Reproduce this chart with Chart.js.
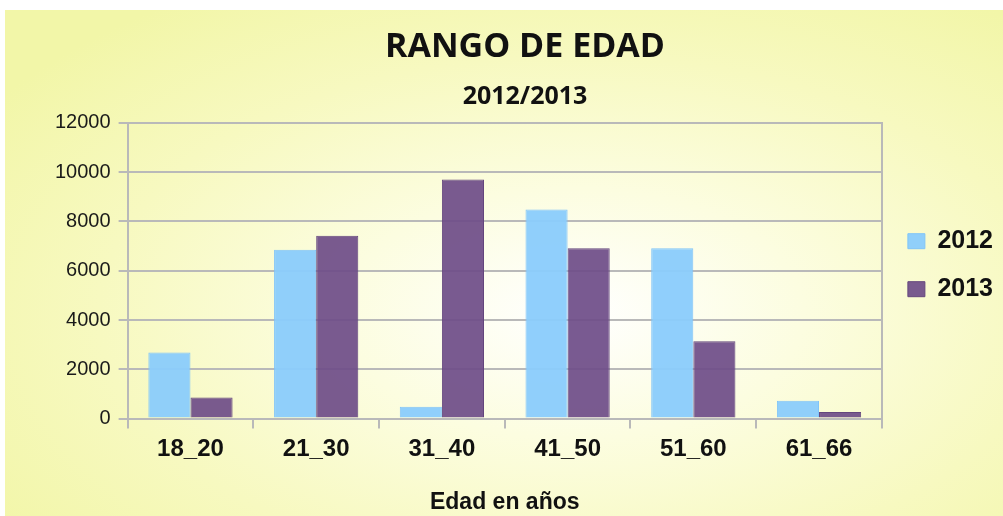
<!DOCTYPE html>
<html>
<head>
<meta charset="utf-8">
<script src="https://cdn.jsdelivr.net/npm/chart.js@4"></script>
<style>
    html, body { margin: 0; padding: 0; background: #ffffff; }
    #fondo {
        position: absolute; left: 5px; top: 10px; right: 0; bottom: 0;
        background: radial-gradient(ellipse 70% 75% at 57% 60%, #ffffff 0%, #fcfde0 33%, #f7f9c0 68%, #f2f6a8 100%);
    }
    #caja { position: absolute; left: 0; top: 0; width: 1003px; height: 516px; }
</style>
</head>
<body>
<div id="fondo"></div>
<div id="caja"><canvas id="rangoEdad" width="1003" height="516"></canvas></div>
<script>
// datos
const categorias = ["18_20", "21_30", "31_40", "41_50", "51_60", "61_66"];
const series = ["2012", "2013"];
const valores2012 = [2680, 6850, 480, 8480, 6910, 720];
const valores2013 = [860, 7420, 9700, 6910, 3140, 270];
const ticksY = [0, 2000, 4000, 6000, 8000, 10000, 12000];

const gris = '#b9b9b9';

const ctx = document.getElementById('rangoEdad');

const config = {
    type: 'bar',
    data: {
        labels: categorias,
        datasets: [{
            label: series[0],
            data: valores2012,
            backgroundColor: 'rgba(138, 204, 252, 0.95)',
            borderColor: 'rgba(128, 196, 248, 1)',
            borderWidth: 1,
            categoryPercentage: 0.67,
            barPercentage: 1.0
        }, {
            label: series[1],
            data: valores2013,
            backgroundColor: 'rgba(110, 76, 136, 0.92)',
            borderColor: 'rgba(100, 70, 125, 1)',
            borderWidth: 1,
            categoryPercentage: 0.67,
            barPercentage: 1.0
        }]
    },
    options: {
        responsive: false,
        animation: false,
        layout: {
            padding: { left: 47, right: 0, top: 0, bottom: 0 }
        },
        plugins: {
            tooltip: { enabled: false },
            title: {
                display: true,
                text: 'RANGO DE EDAD',
                color: '#111',
                font: { family: '"Open Sans", sans-serif', size: 34, weight: 'bold' },
                padding: { top: 27, bottom: 14 }
            },
            subtitle: {
                display: true,
                text: '2012/2013',
                color: '#111',
                font: { family: '"Open Sans", sans-serif', size: 25, weight: 'bold' },
                padding: { top: 0, bottom: 11 }
            },
            legend: {
                position: 'right',
                align: 'center',
                title: {
                    display: true,
                    text: ' ',
                    padding: 0,
                    font: { size: 12 }
                },
                labels: {
                    boxWidth: 17,
                    boxHeight: 15,
                    padding: 23,
                    color: '#111',
                    font: { family: '"Liberation Sans", Arial, sans-serif', size: 25, weight: 'bold' }
                }
            }
        },
        scales: {
            x: {
                offset: true,
                grid: {
                    offset: true,
                    drawOnChartArea: false,
                    drawTicks: true,
                    tickLength: 10,
                    color: gris,
                    lineWidth: 2
                },
                border: { display: true, color: gris, width: 2 },
                ticks: {
                    color: '#111',
                    padding: 6,
                    font: { family: '"Liberation Sans", Arial, sans-serif', size: 24, weight: 'bold' }
                },
                title: {
                    display: true,
                    text: 'Edad en años',
                    color: '#111',
                    font: { family: '"Liberation Sans", Arial, sans-serif', size: 23, weight: 'bold' },
                    padding: { top: 19, bottom: 0 }
                }
            },
            y: {
                min: 0,
                max: 12000,
                afterBuildTicks: function (escala) {
                    escala.ticks = ticksY.map(v => ({ value: v }));
                },
                grid: {
                    color: gris,
                    lineWidth: 2,
                    tickLength: 9
                },
                border: { display: true, color: gris, width: 2 },
                ticks: {
                    color: '#1a1a1a',
                    padding: 8,
                    font: { family: '"Liberation Sans", Arial, sans-serif', size: 20 },
                    callback: function (valor) {
                        return String(valor);
                    }
                }
            },
            borde: {
                position: 'right',
                display: true,
                grid: { display: false },
                ticks: { display: false },
                border: { display: true, color: gris, width: 2 },
                afterFit: function (escala) {
                    escala.width = 3;
                }
            }
        }
    }
};

const graficoEdad = new Chart(ctx, config);
</script>
</body>
</html>
